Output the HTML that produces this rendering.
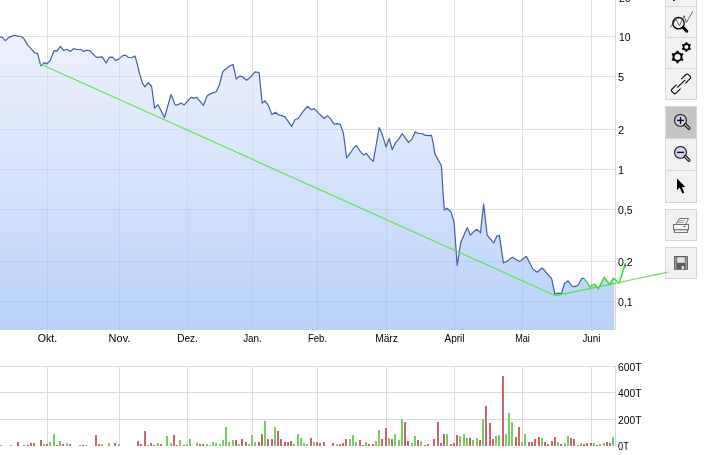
<!DOCTYPE html>
<html><head><meta charset="utf-8"><style>
html,body{margin:0;padding:0;background:#fff;width:708px;height:455px;overflow:hidden}
svg{display:block;will-change:transform}
.t{font-family:"Liberation Sans",sans-serif;font-size:11px;fill:#000}
</style></head><body>
<svg width="708" height="455" viewBox="0 0 708 455">
<defs>
<linearGradient id="fg" x1="0" y1="0" x2="0" y2="330" gradientUnits="userSpaceOnUse">
<stop offset="0.000" stop-color="#f4f6fd" stop-opacity="1.0"/>
<stop offset="0.197" stop-color="#e8eefc" stop-opacity="1.0"/>
<stop offset="0.576" stop-color="#d3e2fb" stop-opacity="1.0"/>
<stop offset="1.000" stop-color="#b8d1f8" stop-opacity="1.0"/>
</linearGradient>
<clipPath id="pc"><rect x="0" y="0" width="614.5" height="330"/></clipPath>
<clipPath id="fc"><polygon points="0.0,330.0 0.0,36.9 0.0,36.9 2.0,37.1 5.3,40.6 9.2,37.1 14.5,35.2 17.8,36.2 21.1,36.5 23.7,38.2 27.7,45.4 31.0,48.7 34.9,53.0 37.6,53.7 40.9,65.9 44.2,62.6 46.8,63.9 50.1,60.6 54.1,50.7 57.0,51.1 60.3,46.5 63.6,50.4 66.9,49.5 70.6,51.4 73.5,48.7 76.8,49.5 80.7,49.5 83.7,51.4 86.6,50.2 89.6,50.6 93.2,54.1 96.5,57.4 102.2,56.8 106.2,63.0 109.3,57.3 112.6,57.1 115.5,60.4 118.6,59.1 123.2,55.4 125.8,55.4 128.5,57.5 131.8,57.5 135.1,56.1 137.0,63.1 139.0,71.6 142.3,82.9 144.9,86.8 148.2,82.5 151.6,86.5 154.6,108.2 157.9,104.6 164.5,117.5 171.1,94.4 175.1,104.9 177.7,104.9 181.0,103.0 184.3,104.9 190.9,97.3 194.2,98.1 196.8,97.3 203.4,105.3 207.3,95.5 210.9,93.6 216.2,91.7 219.5,84.7 222.8,71.5 226.1,68.8 230.1,65.8 233.1,64.6 236.3,79.1 239.6,76.1 242.2,76.5 246.5,80.3 249.8,77.7 255.1,71.9 259.1,72.5 262.2,103.1 265.0,100.8 268.6,105.7 271.9,114.6 275.6,112.3 278.5,114.9 281.8,115.6 285.1,116.9 291.6,126.4 294.9,119.8 298.2,118.5 302.9,111.6 307.5,106.4 311.4,109.7 314.1,108.6 320.3,114.8 324.2,118.5 327.5,115.6 330.8,119.1 334.1,124.1 337.4,123.7 340.3,124.4 343.4,133.0 346.6,158.0 350.6,152.7 353.9,147.5 356.5,145.5 359.8,150.8 363.8,155.1 366.4,153.3 369.6,157.9 373.3,161.4 379.2,127.5 382.1,134.1 386.1,146.9 389.1,138.5 392.3,149.6 395.6,142.4 398.6,139.4 402.2,133.5 408.5,142.4 411.8,139.4 415.1,131.9 418.4,133.5 421.7,133.5 424.9,135.1 428.2,135.7 431.5,135.4 433.2,143.1 434.8,153.6 441.4,165.7 443.2,195.0 444.4,210.0 447.0,208.2 450.9,211.7 454.1,222.3 457.2,265.4 460.8,242.2 467.3,227.6 470.3,235.1 473.4,232.0 477.0,229.3 480.5,232.8 483.6,204.1 487.2,235.1 493.7,242.9 497.0,235.8 499.4,235.6 503.4,262.8 507.3,261.1 512.2,257.2 519.6,261.6 526.3,256.3 532.8,269.0 537.2,272.2 542.2,267.8 547.8,274.3 551.6,278.6 554.9,294.0 557.7,293.2 561.5,293.5 564.3,283.8 568.1,280.8 572.0,286.0 574.7,286.6 578.0,285.2 581.9,278.3 584.1,278.3 590.0,286.9 594.4,284.1 598.3,288.8 604.2,277.3 609.7,284.6 613.5,278.2 614.5,279.5 614.5,330.0"/></clipPath>
</defs>
<rect width="708" height="455" fill="#fff"/>
<path d="M47.5 0V330 M119.5 0V330 M187.5 0V330 M252.5 0V330 M317.5 0V330 M386.5 0V330 M454.5 0V330 M522.5 0V330 M591.5 0V330 M0 36.5H615 M0 76.5H615 M0 129.5H615 M0 169.5H615 M0 209.5H615 M0 261.5H615 M0 301.5H615" stroke="#e0e0e0" stroke-width="1" fill="none"/>
<path d="M615.5 0V330" stroke="#d8d8d8" stroke-width="1"/>
<polygon clip-path="url(#pc)" points="0.0,330.0 0.0,36.9 0.0,36.9 2.0,37.1 5.3,40.6 9.2,37.1 14.5,35.2 17.8,36.2 21.1,36.5 23.7,38.2 27.7,45.4 31.0,48.7 34.9,53.0 37.6,53.7 40.9,65.9 44.2,62.6 46.8,63.9 50.1,60.6 54.1,50.7 57.0,51.1 60.3,46.5 63.6,50.4 66.9,49.5 70.6,51.4 73.5,48.7 76.8,49.5 80.7,49.5 83.7,51.4 86.6,50.2 89.6,50.6 93.2,54.1 96.5,57.4 102.2,56.8 106.2,63.0 109.3,57.3 112.6,57.1 115.5,60.4 118.6,59.1 123.2,55.4 125.8,55.4 128.5,57.5 131.8,57.5 135.1,56.1 137.0,63.1 139.0,71.6 142.3,82.9 144.9,86.8 148.2,82.5 151.6,86.5 154.6,108.2 157.9,104.6 164.5,117.5 171.1,94.4 175.1,104.9 177.7,104.9 181.0,103.0 184.3,104.9 190.9,97.3 194.2,98.1 196.8,97.3 203.4,105.3 207.3,95.5 210.9,93.6 216.2,91.7 219.5,84.7 222.8,71.5 226.1,68.8 230.1,65.8 233.1,64.6 236.3,79.1 239.6,76.1 242.2,76.5 246.5,80.3 249.8,77.7 255.1,71.9 259.1,72.5 262.2,103.1 265.0,100.8 268.6,105.7 271.9,114.6 275.6,112.3 278.5,114.9 281.8,115.6 285.1,116.9 291.6,126.4 294.9,119.8 298.2,118.5 302.9,111.6 307.5,106.4 311.4,109.7 314.1,108.6 320.3,114.8 324.2,118.5 327.5,115.6 330.8,119.1 334.1,124.1 337.4,123.7 340.3,124.4 343.4,133.0 346.6,158.0 350.6,152.7 353.9,147.5 356.5,145.5 359.8,150.8 363.8,155.1 366.4,153.3 369.6,157.9 373.3,161.4 379.2,127.5 382.1,134.1 386.1,146.9 389.1,138.5 392.3,149.6 395.6,142.4 398.6,139.4 402.2,133.5 408.5,142.4 411.8,139.4 415.1,131.9 418.4,133.5 421.7,133.5 424.9,135.1 428.2,135.7 431.5,135.4 433.2,143.1 434.8,153.6 441.4,165.7 443.2,195.0 444.4,210.0 447.0,208.2 450.9,211.7 454.1,222.3 457.2,265.4 460.8,242.2 467.3,227.6 470.3,235.1 473.4,232.0 477.0,229.3 480.5,232.8 483.6,204.1 487.2,235.1 493.7,242.9 497.0,235.8 499.4,235.6 503.4,262.8 507.3,261.1 512.2,257.2 519.6,261.6 526.3,256.3 532.8,269.0 537.2,272.2 542.2,267.8 547.8,274.3 551.6,278.6 554.9,294.0 557.7,293.2 561.5,293.5 564.3,283.8 568.1,280.8 572.0,286.0 574.7,286.6 578.0,285.2 581.9,278.3 584.1,278.3 590.0,286.9 594.4,284.1 598.3,288.8 604.2,277.3 609.7,284.6 613.5,278.2 614.5,279.5 614.5,330.0" fill="url(#fg)"/>
<g clip-path="url(#fc)"><path d="M47.5 0V330 M119.5 0V330 M187.5 0V330 M252.5 0V330 M317.5 0V330 M386.5 0V330 M454.5 0V330 M522.5 0V330 M591.5 0V330 M0 36.5H615 M0 76.5H615 M0 129.5H615 M0 169.5H615 M0 209.5H615 M0 261.5H615 M0 301.5H615" stroke="#5a6cc0" stroke-opacity="0.11" stroke-width="1" fill="none"/></g>
<polyline points="0.0,36.9 2.0,37.1 5.3,40.6 9.2,37.1 14.5,35.2 17.8,36.2 21.1,36.5 23.7,38.2 27.7,45.4 31.0,48.7 34.9,53.0 37.6,53.7 40.9,65.9 44.2,62.6 46.8,63.9 50.1,60.6 54.1,50.7 57.0,51.1 60.3,46.5 63.6,50.4 66.9,49.5 70.6,51.4 73.5,48.7 76.8,49.5 80.7,49.5 83.7,51.4 86.6,50.2 89.6,50.6 93.2,54.1 96.5,57.4 102.2,56.8 106.2,63.0 109.3,57.3 112.6,57.1 115.5,60.4 118.6,59.1 123.2,55.4 125.8,55.4 128.5,57.5 131.8,57.5 135.1,56.1 137.0,63.1 139.0,71.6 142.3,82.9 144.9,86.8 148.2,82.5 151.6,86.5 154.6,108.2 157.9,104.6 164.5,117.5 171.1,94.4 175.1,104.9 177.7,104.9 181.0,103.0 184.3,104.9 190.9,97.3 194.2,98.1 196.8,97.3 203.4,105.3 207.3,95.5 210.9,93.6 216.2,91.7 219.5,84.7 222.8,71.5 226.1,68.8 230.1,65.8 233.1,64.6 236.3,79.1 239.6,76.1 242.2,76.5 246.5,80.3 249.8,77.7 255.1,71.9 259.1,72.5 262.2,103.1 265.0,100.8 268.6,105.7 271.9,114.6 275.6,112.3 278.5,114.9 281.8,115.6 285.1,116.9 291.6,126.4 294.9,119.8 298.2,118.5 302.9,111.6 307.5,106.4 311.4,109.7 314.1,108.6 320.3,114.8 324.2,118.5 327.5,115.6 330.8,119.1 334.1,124.1 337.4,123.7 340.3,124.4 343.4,133.0 346.6,158.0 350.6,152.7 353.9,147.5 356.5,145.5 359.8,150.8 363.8,155.1 366.4,153.3 369.6,157.9 373.3,161.4 379.2,127.5 382.1,134.1 386.1,146.9 389.1,138.5 392.3,149.6 395.6,142.4 398.6,139.4 402.2,133.5 408.5,142.4 411.8,139.4 415.1,131.9 418.4,133.5 421.7,133.5 424.9,135.1 428.2,135.7 431.5,135.4 433.2,143.1 434.8,153.6 441.4,165.7 443.2,195.0 444.4,210.0 447.0,208.2 450.9,211.7 454.1,222.3 457.2,265.4 460.8,242.2 467.3,227.6 470.3,235.1 473.4,232.0 477.0,229.3 480.5,232.8 483.6,204.1 487.2,235.1 493.7,242.9 497.0,235.8 499.4,235.6 503.4,262.8 507.3,261.1 512.2,257.2 519.6,261.6 526.3,256.3 532.8,269.0 537.2,272.2 542.2,267.8 547.8,274.3 551.6,278.6 554.9,294.0 557.7,293.2 561.5,293.5 564.3,283.8 568.1,280.8 572.0,286.0 574.7,286.6 578.0,285.2 581.9,278.3 584.1,278.3" fill="none" stroke="#3f5ea8" stroke-width="1.2" stroke-linejoin="round"/>
<polyline points="584.1,278.3 590.0,286.9 594.4,284.1 598.3,288.8 604.2,277.3 609.7,284.6 613.5,278.2 619.2,283.3 625.3,263.3" fill="none" stroke="#3ed83e" stroke-width="1.5" stroke-linejoin="round"/>
<polyline points="38.6,63.2 555.5,295.7" fill="none" stroke="#58e646" stroke-width="1.15"/><polyline points="555.5,295.7 615,283.3" fill="none" stroke="#4ee23e" stroke-width="1.3"/>
<text x="619" y="2.0" class="t" textLength="11.6" lengthAdjust="spacingAndGlyphs">20</text>
<text x="619" y="40.5" class="t" textLength="11.6" lengthAdjust="spacingAndGlyphs">10</text>
<text x="618" y="80.5" class="t">5</text>
<text x="618" y="133.5" class="t">2</text>
<text x="618" y="173.5" class="t">1</text>
<text x="618" y="213.5" class="t" textLength="14.6" lengthAdjust="spacingAndGlyphs">0,5</text>
<text x="618" y="265.5" class="t" textLength="14.6" lengthAdjust="spacingAndGlyphs">0,2</text>
<text x="618" y="305.5" class="t" textLength="14.6" lengthAdjust="spacingAndGlyphs">0,1</text>
<text x="47.5" y="341.6" class="t" text-anchor="middle" textLength="19.4" lengthAdjust="spacingAndGlyphs">Okt.</text>
<text x="119.5" y="341.6" class="t" text-anchor="middle" textLength="21.8" lengthAdjust="spacingAndGlyphs">Nov.</text>
<text x="187.5" y="341.6" class="t" text-anchor="middle" textLength="20.7" lengthAdjust="spacingAndGlyphs">Dez.</text>
<text x="252.5" y="341.6" class="t" text-anchor="middle" textLength="18.7" lengthAdjust="spacingAndGlyphs">Jan.</text>
<text x="317.5" y="341.6" class="t" text-anchor="middle" textLength="19.2" lengthAdjust="spacingAndGlyphs">Feb.</text>
<text x="386.5" y="341.6" class="t" text-anchor="middle" textLength="22.5" lengthAdjust="spacingAndGlyphs">M&#228;rz</text>
<text x="454.5" y="341.6" class="t" text-anchor="middle" textLength="20.1" lengthAdjust="spacingAndGlyphs">April</text>
<text x="522.5" y="341.6" class="t" text-anchor="middle" textLength="14.7" lengthAdjust="spacingAndGlyphs">Mai</text>
<text x="591.5" y="341.6" class="t" text-anchor="middle" textLength="18.1" lengthAdjust="spacingAndGlyphs">Juni</text>
<path d="M47.5 366V446 M119.5 366V446 M187.5 366V446 M252.5 366V446 M317.5 366V446 M386.5 366V446 M454.5 366V446 M522.5 366V446 M591.5 366V446 M0 366.5H615 M0 392.5H615 M0 419.5H615" stroke="#dcdcdc" stroke-width="1" fill="none"/>
<path d="M615.5 366V446" stroke="#d8d8d8" stroke-width="1"/>
<rect x="0" y="445" width="2" height="1" fill="#76cd68"/>
<rect x="10" y="445" width="2" height="1" fill="#76cd68"/>
<rect x="17" y="442" width="2" height="4" fill="#c7676d"/>
<rect x="23" y="445" width="2" height="1" fill="#c7676d"/>
<rect x="27" y="445" width="2" height="1" fill="#c7676d"/>
<rect x="30" y="443" width="2" height="3" fill="#c7676d"/>
<rect x="33" y="443" width="2" height="3" fill="#c7676d"/>
<rect x="40" y="440" width="2" height="6" fill="#c7676d"/>
<rect x="43" y="444" width="2" height="2" fill="#76cd68"/>
<rect x="46" y="444" width="2" height="2" fill="#c7676d"/>
<rect x="49" y="442" width="2" height="4" fill="#76cd68"/>
<rect x="53" y="434" width="2" height="12" fill="#76cd68"/>
<rect x="56" y="445" width="2" height="1" fill="#c7676d"/>
<rect x="59" y="441" width="2" height="5" fill="#76cd68"/>
<rect x="62" y="444" width="2" height="2" fill="#c7676d"/>
<rect x="66" y="443" width="2" height="3" fill="#76cd68"/>
<rect x="69" y="444" width="2" height="2" fill="#c7676d"/>
<rect x="79" y="445" width="2" height="1" fill="#76cd68"/>
<rect x="82" y="445" width="2" height="1" fill="#c7676d"/>
<rect x="85" y="445" width="2" height="1" fill="#76cd68"/>
<rect x="95" y="435" width="2" height="11" fill="#c7676d"/>
<rect x="98" y="444" width="2" height="2" fill="#c7676d"/>
<rect x="101" y="444" width="2" height="2" fill="#76cd68"/>
<rect x="108" y="443" width="2" height="3" fill="#76cd68"/>
<rect x="114" y="443" width="2" height="3" fill="#c7676d"/>
<rect x="118" y="444" width="2" height="2" fill="#76cd68"/>
<rect x="137" y="441" width="2" height="5" fill="#c7676d"/>
<rect x="140" y="444" width="2" height="2" fill="#c7676d"/>
<rect x="144" y="431" width="2" height="15" fill="#c7676d"/>
<rect x="147" y="445" width="2" height="1" fill="#76cd68"/>
<rect x="150" y="443" width="2" height="3" fill="#c7676d"/>
<rect x="153" y="445" width="2" height="1" fill="#c7676d"/>
<rect x="157" y="443" width="2" height="3" fill="#76cd68"/>
<rect x="160" y="444" width="2" height="2" fill="#c7676d"/>
<rect x="166" y="436" width="2" height="10" fill="#76cd68"/>
<rect x="170" y="443" width="2" height="3" fill="#76cd68"/>
<rect x="173" y="435" width="2" height="11" fill="#c7676d"/>
<rect x="176" y="445" width="2" height="1" fill="#c7676d"/>
<rect x="179" y="440" width="2" height="6" fill="#76cd68"/>
<rect x="183" y="445" width="2" height="1" fill="#c7676d"/>
<rect x="186" y="444" width="2" height="2" fill="#76cd68"/>
<rect x="189" y="439" width="2" height="7" fill="#76cd68"/>
<rect x="196" y="443" width="2" height="3" fill="#76cd68"/>
<rect x="199" y="444" width="2" height="2" fill="#c7676d"/>
<rect x="202" y="444" width="2" height="2" fill="#c7676d"/>
<rect x="206" y="444" width="2" height="2" fill="#76cd68"/>
<rect x="209" y="445" width="2" height="1" fill="#76cd68"/>
<rect x="212" y="442" width="2" height="4" fill="#76cd68"/>
<rect x="215" y="443" width="2" height="3" fill="#76cd68"/>
<rect x="219" y="444" width="2" height="2" fill="#76cd68"/>
<rect x="222" y="440" width="2" height="6" fill="#76cd68"/>
<rect x="225" y="427" width="2" height="19" fill="#76cd68"/>
<rect x="228" y="442" width="2" height="4" fill="#76cd68"/>
<rect x="232" y="440" width="2" height="6" fill="#76cd68"/>
<rect x="235" y="440" width="2" height="6" fill="#c7676d"/>
<rect x="238" y="444" width="2" height="2" fill="#76cd68"/>
<rect x="241" y="439" width="2" height="7" fill="#c7676d"/>
<rect x="245" y="442" width="2" height="4" fill="#c7676d"/>
<rect x="248" y="444" width="2" height="2" fill="#76cd68"/>
<rect x="251" y="435" width="2" height="11" fill="#76cd68"/>
<rect x="254" y="442" width="2" height="4" fill="#76cd68"/>
<rect x="258" y="442" width="2" height="4" fill="#c7676d"/>
<rect x="261" y="434" width="2" height="12" fill="#c7676d"/>
<rect x="264" y="421" width="2" height="25" fill="#76cd68"/>
<rect x="267" y="439" width="2" height="7" fill="#c7676d"/>
<rect x="271" y="439" width="2" height="7" fill="#c7676d"/>
<rect x="274" y="427" width="2" height="19" fill="#76cd68"/>
<rect x="277" y="431" width="2" height="15" fill="#c7676d"/>
<rect x="280" y="439" width="2" height="7" fill="#c7676d"/>
<rect x="284" y="442" width="2" height="4" fill="#c7676d"/>
<rect x="287" y="442" width="2" height="4" fill="#c7676d"/>
<rect x="290" y="441" width="2" height="5" fill="#c7676d"/>
<rect x="293" y="444" width="2" height="2" fill="#76cd68"/>
<rect x="297" y="434" width="2" height="12" fill="#76cd68"/>
<rect x="300" y="438" width="2" height="8" fill="#76cd68"/>
<rect x="303" y="443" width="2" height="3" fill="#76cd68"/>
<rect x="306" y="444" width="2" height="2" fill="#76cd68"/>
<rect x="310" y="438" width="2" height="8" fill="#c7676d"/>
<rect x="313" y="442" width="2" height="4" fill="#76cd68"/>
<rect x="316" y="442" width="2" height="4" fill="#c7676d"/>
<rect x="319" y="443" width="2" height="3" fill="#c7676d"/>
<rect x="323" y="442" width="2" height="4" fill="#c7676d"/>
<rect x="332" y="443" width="2" height="3" fill="#c7676d"/>
<rect x="336" y="444" width="2" height="2" fill="#76cd68"/>
<rect x="339" y="444" width="2" height="2" fill="#c7676d"/>
<rect x="342" y="443" width="2" height="3" fill="#c7676d"/>
<rect x="345" y="439" width="2" height="7" fill="#c7676d"/>
<rect x="349" y="439" width="2" height="7" fill="#76cd68"/>
<rect x="352" y="435" width="2" height="11" fill="#76cd68"/>
<rect x="355" y="442" width="2" height="4" fill="#76cd68"/>
<rect x="359" y="440" width="2" height="6" fill="#c7676d"/>
<rect x="362" y="445" width="2" height="1" fill="#c7676d"/>
<rect x="365" y="442" width="2" height="4" fill="#76cd68"/>
<rect x="368" y="444" width="2" height="2" fill="#c7676d"/>
<rect x="372" y="444" width="2" height="2" fill="#c7676d"/>
<rect x="375" y="441" width="2" height="5" fill="#76cd68"/>
<rect x="378" y="430" width="2" height="16" fill="#76cd68"/>
<rect x="381" y="439" width="2" height="7" fill="#c7676d"/>
<rect x="385" y="428" width="2" height="18" fill="#c7676d"/>
<rect x="388" y="438" width="2" height="8" fill="#76cd68"/>
<rect x="391" y="439" width="2" height="7" fill="#c7676d"/>
<rect x="394" y="434" width="2" height="12" fill="#76cd68"/>
<rect x="398" y="440" width="2" height="6" fill="#76cd68"/>
<rect x="401" y="419" width="2" height="27" fill="#76cd68"/>
<rect x="404" y="422" width="2" height="24" fill="#c7676d"/>
<rect x="407" y="441" width="2" height="5" fill="#c7676d"/>
<rect x="411" y="443" width="2" height="3" fill="#76cd68"/>
<rect x="414" y="436" width="2" height="10" fill="#76cd68"/>
<rect x="417" y="440" width="2" height="6" fill="#c7676d"/>
<rect x="420" y="441" width="2" height="5" fill="#76cd68"/>
<rect x="424" y="445" width="2" height="1" fill="#c7676d"/>
<rect x="427" y="444" width="2" height="2" fill="#c7676d"/>
<rect x="433" y="439" width="2" height="7" fill="#c7676d"/>
<rect x="437" y="422" width="2" height="24" fill="#c7676d"/>
<rect x="440" y="443" width="2" height="3" fill="#c7676d"/>
<rect x="443" y="434" width="2" height="12" fill="#c7676d"/>
<rect x="446" y="434" width="2" height="12" fill="#76cd68"/>
<rect x="450" y="444" width="2" height="2" fill="#c7676d"/>
<rect x="453" y="443" width="2" height="3" fill="#c7676d"/>
<rect x="456" y="435" width="2" height="11" fill="#c7676d"/>
<rect x="459" y="436" width="2" height="10" fill="#76cd68"/>
<rect x="463" y="434" width="2" height="12" fill="#76cd68"/>
<rect x="466" y="438" width="2" height="8" fill="#76cd68"/>
<rect x="469" y="438" width="2" height="8" fill="#c7676d"/>
<rect x="472" y="440" width="2" height="6" fill="#76cd68"/>
<rect x="476" y="438" width="2" height="8" fill="#76cd68"/>
<rect x="479" y="440" width="2" height="6" fill="#c7676d"/>
<rect x="482" y="419" width="2" height="27" fill="#76cd68"/>
<rect x="485" y="406" width="2" height="40" fill="#c7676d"/>
<rect x="489" y="423" width="2" height="23" fill="#c7676d"/>
<rect x="492" y="439" width="2" height="7" fill="#c7676d"/>
<rect x="495" y="436" width="2" height="10" fill="#76cd68"/>
<rect x="498" y="435" width="2" height="11" fill="#76cd68"/>
<rect x="502" y="376" width="2" height="70" fill="#c7676d"/>
<rect x="505" y="434" width="2" height="12" fill="#76cd68"/>
<rect x="508" y="413" width="2" height="33" fill="#76cd68"/>
<rect x="511" y="422" width="2" height="24" fill="#76cd68"/>
<rect x="515" y="437" width="2" height="9" fill="#c7676d"/>
<rect x="518" y="427" width="2" height="19" fill="#c7676d"/>
<rect x="521" y="442" width="2" height="4" fill="#76cd68"/>
<rect x="524" y="434" width="2" height="12" fill="#76cd68"/>
<rect x="528" y="442" width="2" height="4" fill="#c7676d"/>
<rect x="531" y="442" width="2" height="4" fill="#c7676d"/>
<rect x="534" y="439" width="2" height="7" fill="#c7676d"/>
<rect x="538" y="437" width="2" height="9" fill="#c7676d"/>
<rect x="541" y="438" width="2" height="8" fill="#76cd68"/>
<rect x="544" y="442" width="2" height="4" fill="#c7676d"/>
<rect x="547" y="444" width="2" height="2" fill="#c7676d"/>
<rect x="551" y="441" width="2" height="5" fill="#c7676d"/>
<rect x="554" y="437" width="2" height="9" fill="#c7676d"/>
<rect x="557" y="442" width="2" height="4" fill="#76cd68"/>
<rect x="560" y="444" width="2" height="2" fill="#c7676d"/>
<rect x="564" y="443" width="2" height="3" fill="#76cd68"/>
<rect x="567" y="436" width="2" height="10" fill="#76cd68"/>
<rect x="570" y="438" width="2" height="8" fill="#c7676d"/>
<rect x="573" y="439" width="2" height="7" fill="#c7676d"/>
<rect x="577" y="445" width="2" height="1" fill="#76cd68"/>
<rect x="580" y="443" width="2" height="3" fill="#76cd68"/>
<rect x="583" y="444" width="2" height="2" fill="#c7676d"/>
<rect x="586" y="443" width="2" height="3" fill="#c7676d"/>
<rect x="590" y="443" width="2" height="3" fill="#c7676d"/>
<rect x="593" y="443" width="2" height="3" fill="#76cd68"/>
<rect x="596" y="445" width="2" height="1" fill="#c7676d"/>
<rect x="599" y="444" width="2" height="2" fill="#76cd68"/>
<rect x="603" y="443" width="2" height="3" fill="#76cd68"/>
<rect x="606" y="442" width="2" height="4" fill="#c7676d"/>
<rect x="609" y="443" width="2" height="3" fill="#c7676d"/>
<rect x="612" y="437" width="2" height="9" fill="#76cd68"/>
<text x="618" y="370.5" class="t" textLength="23.5" lengthAdjust="spacingAndGlyphs">600T</text>
<text x="618" y="396.5" class="t" textLength="23.5" lengthAdjust="spacingAndGlyphs">400T</text>
<text x="618" y="423.5" class="t" textLength="23.5" lengthAdjust="spacingAndGlyphs">200T</text>
<text x="618" y="450.0" class="t" textLength="10.8" lengthAdjust="spacingAndGlyphs">0T</text>
<rect x="665.5" y="-10.5" width="31" height="17.0" fill="#f2f2f2" stroke="#d6d6d6" stroke-width="1"/>
<rect x="665.5" y="6.5" width="31" height="31.0" fill="#f2f2f2" stroke="#d6d6d6" stroke-width="1"/>
<rect x="665.5" y="37.5" width="31" height="31.0" fill="#f2f2f2" stroke="#d6d6d6" stroke-width="1"/>
<rect x="665.5" y="68.5" width="31" height="31.0" fill="#f2f2f2" stroke="#d6d6d6" stroke-width="1"/>
<rect x="665.5" y="106.5" width="31" height="32.0" fill="#c5c5c5" stroke="#d6d6d6" stroke-width="1"/>
<rect x="665.5" y="138.5" width="31" height="32.0" fill="#f2f2f2" stroke="#d6d6d6" stroke-width="1"/>
<rect x="665.5" y="170.5" width="31" height="32.0" fill="#f2f2f2" stroke="#d6d6d6" stroke-width="1"/>
<rect x="665.5" y="209.5" width="31" height="31.0" fill="#f2f2f2" stroke="#d6d6d6" stroke-width="1"/>
<rect x="665.5" y="247.5" width="31" height="31.0" fill="#f2f2f2" stroke="#d6d6d6" stroke-width="1"/>
<rect x="673" y="0" width="2" height="1" fill="#222"/>
<polyline points="670.3,27.4 675.9,19.5 679.5,25.8 684.1,15.6 686.4,22.5 692.7,11.3" fill="none" stroke="#444" stroke-width="0.8"/>
<circle cx="678.5" cy="23.2" r="5.7" fill="none" stroke="#000" stroke-width="1.3"/>
<line x1="683.3" y1="27.6" x2="686.8" y2="31.2" stroke="#000" stroke-width="3" stroke-linecap="round"/>
<circle cx="677.5" cy="57.0" r="4.0" fill="none" stroke="#000" stroke-width="2.0"/><path d="M677.50 53.00L677.50 50.70M680.96 55.00L682.96 53.85M680.96 59.00L682.96 60.15M677.50 61.00L677.50 63.30M674.04 59.00L672.04 60.15M674.04 55.00L672.04 53.85" stroke="#000" stroke-width="2.2" stroke-linecap="butt"/>
<circle cx="686.4" cy="47.0" r="2.9" fill="none" stroke="#000" stroke-width="1.7"/><path d="M686.40 44.10L686.40 42.20M688.91 45.55L690.56 44.60M688.91 48.45L690.56 49.40M686.40 49.90L686.40 51.80M683.89 48.45L682.24 49.40M683.89 45.55L682.24 44.60" stroke="#000" stroke-width="1.9" stroke-linecap="butt"/>
<g fill="none" stroke="#000" stroke-width="1.1" stroke-linecap="butt"><path d="M681.2 79.2L686 74.5Q687.2 73.4 688.4 74.6L690 76.2Q691.2 77.4 690 78.6L685.4 83.3"/><path d="M676.6 84.6L672 89.2Q670.8 90.4 672 91.6L673.6 93.2Q674.8 94.4 676 93.2L680.6 88.6"/><path d="M677.2 87.6L685.2 79.8"/></g>
<circle cx="680.5" cy="120.4" r="5.9" fill="#d2d2ec" stroke="#111" stroke-width="1.1"/><path d="M677 120.4H684" stroke="#111" stroke-width="1.4"/><path d="M680.5 116.9V123.9" stroke="#111" stroke-width="1.4"/><line x1="685.3" y1="124.60000000000001" x2="688.8" y2="128.1" stroke="#111" stroke-width="3.4" stroke-linecap="round"/><line x1="685.3" y1="124.60000000000001" x2="688.8" y2="128.1" stroke="#c8c8c8" stroke-width="1.2" stroke-linecap="round"/>
<circle cx="680.5" cy="152.4" r="5.9" fill="#d2d2ec" stroke="#111" stroke-width="1.1"/><path d="M677 152.4H684" stroke="#111" stroke-width="1.4"/><line x1="685.3" y1="156.6" x2="688.8" y2="160.1" stroke="#111" stroke-width="3.4" stroke-linecap="round"/><line x1="685.3" y1="156.6" x2="688.8" y2="160.1" stroke="#c8c8c8" stroke-width="1.2" stroke-linecap="round"/>
<path d="M677 178.5V190.2L679.6 187.6L682.3 193.4L684.3 192.4L681.8 187.2L685.4 187.1Z" fill="#000"/>
<g stroke="#6e6e6e" stroke-width="1" fill="none"><path d="M676.3 224L679.3 218.5H688.6L685.8 224" fill="#f4f4f4"/><path d="M678.5 220.7H684.5M678 222.4H683.5" stroke="#999"/><rect x="673.5" y="224.5" width="15" height="5.3" fill="#f8f8f8"/><rect x="674.5" y="229.8" width="13" height="2.6" fill="#fafafa"/></g><rect x="683.3" y="225.8" width="2.4" height="1" fill="#555"/>
<rect x="674" y="256" width="14" height="13.8" fill="#5e5e5e"/><rect x="674.8" y="257" width="1.7" height="12" fill="#979797"/><rect x="685.4" y="258" width="1.8" height="11" fill="#979797"/><rect x="677.2" y="257.2" width="7.6" height="5.6" fill="#e2e2e2"/><rect x="681.8" y="266" width="2" height="3" fill="#eeeeee"/><rect x="686.3" y="256.6" width="1" height="1" fill="#eee"/>
<polyline points="614,283.5 668,272.2" fill="none" stroke="#68e254" stroke-width="1.2"/>
</svg>
</body></html>
